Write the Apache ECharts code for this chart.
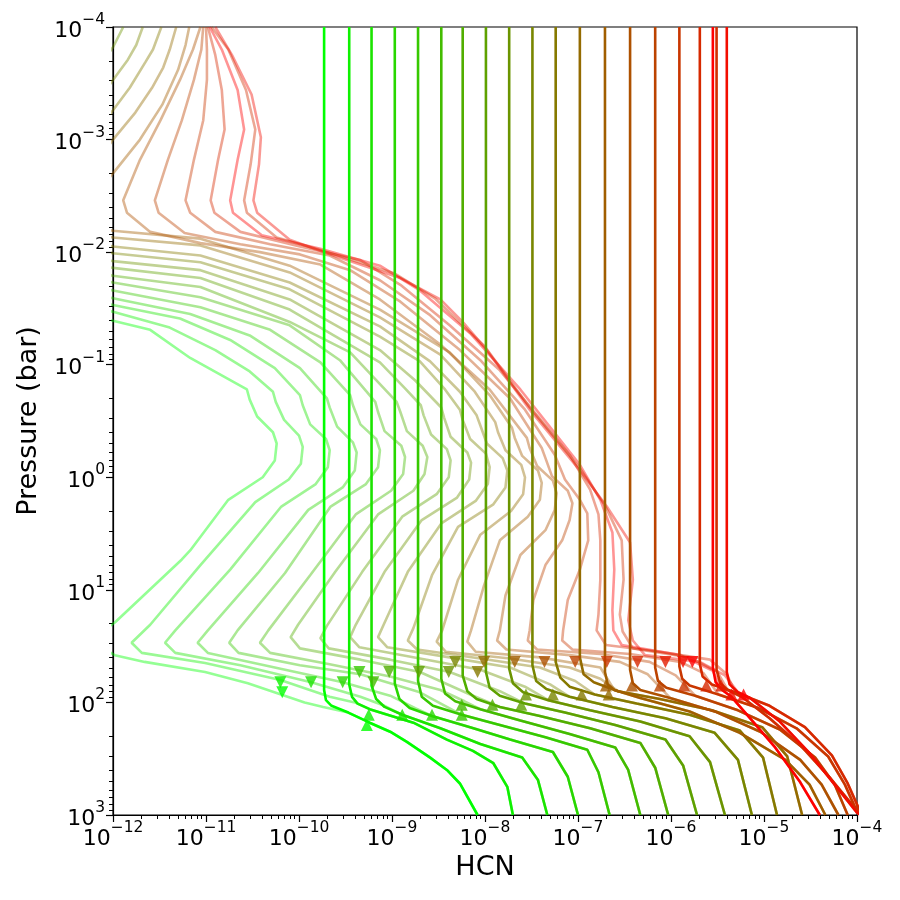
<!DOCTYPE html>
<html><head><meta charset="utf-8">
<script src="https://cdn.jsdelivr.net/npm/echarts@6/dist/echarts.min.js"></script>
<style>html,body{margin:0;padding:0;background:#fff}#c{width:900px;height:900px}</style>
</head><body><div id="c"></div>
<script>
// ---- data: points are [log10(HCN), log10(Pressure/bar)] ----
const X_TICK_EXP = [-12,-11,-10,-9,-8,-7,-6,-5,-4];
const Y_TICK_EXP = [-4,-3,-2,-1,0,1,2,3];

// solid profiles (full colour)
const DARK_00 = [[-9.73,-4],[-9.73,1.89],[-9.71,1.98],[-9.65,2.03],[-9.47,2.09],[-9.24,2.18],[-9.02,2.26],[-8.84,2.35],[-8.59,2.49],[-8.41,2.60],[-8.27,2.72],[-8.08,3.0]];
const DARK_01 = [[-9.46,-4],[-9.46,1.84],[-9.43,1.95],[-9.37,2.01],[-9.24,2.06],[-8.77,2.18],[-8.41,2.33],[-8.13,2.43],[-7.91,2.54],[-7.76,2.75],[-7.70,3.0]];
const DARK_02 = [[-9.22,-4],[-9.22,1.85],[-9.17,1.97],[-9.08,2.04],[-8.89,2.11],[-8.48,2.23],[-8.05,2.37],[-7.60,2.49],[-7.43,2.69],[-7.33,3.0]];
const DARK_03 = [[-8.97,-4],[-8.97,1.83],[-8.92,1.97],[-8.81,2.05],[-8.57,2.12],[-8.16,2.22],[-7.73,2.33],[-7.27,2.44],[-7.11,2.66],[-7.0,3.0]];
const DARK_04 = [[-8.72,-4],[-8.72,1.81],[-8.68,1.95],[-8.56,2.03],[-8.25,2.11],[-7.84,2.20],[-7.35,2.31],[-6.90,2.42],[-6.78,2.62],[-6.66,3.0]];
const DARK_05 = [[-8.47,-4],[-8.47,1.79],[-8.43,1.92],[-8.32,1.99],[-8.05,2.06],[-7.62,2.16],[-7.09,2.28],[-6.60,2.40],[-6.46,2.60],[-6.33,3.0]];
const DARK_06 = [[-8.24,-4],[-8.24,1.76],[-8.19,1.90],[-8.09,1.97],[-7.84,2.04],[-7.41,2.12],[-6.87,2.23],[-6.33,2.36],[-6.17,2.58],[-6.03,3.0]];
const DARK_07 = [[-7.99,-4],[-7.99,1.73],[-7.95,1.87],[-7.84,1.94],[-7.57,2.01],[-7.14,2.09],[-6.60,2.20],[-6.06,2.33],[-5.87,2.56],[-5.72,3.0]];
const DARK_08 = [[-7.74,-4],[-7.74,1.70],[-7.70,1.83],[-7.59,1.91],[-7.32,1.98],[-6.87,2.07],[-6.33,2.17],[-5.80,2.30],[-5.58,2.53],[-5.42,3.0]];
const DARK_09 = [[-7.49,-4],[-7.49,1.67],[-7.45,1.81],[-7.34,1.88],[-7.09,1.95],[-6.63,2.04],[-6.06,2.14],[-5.53,2.27],[-5.28,2.51],[-5.13,3.0]];
const DARK_10 = [[-7.24,-4],[-7.24,1.64],[-7.19,1.78],[-7.09,1.86],[-6.82,1.93],[-6.37,2.01],[-5.80,2.11],[-5.26,2.25],[-5.01,2.49],[-4.86,3.0]];
const DARK_11 = [[-6.98,-4],[-6.98,1.60],[-6.94,1.75],[-6.83,1.82],[-6.57,1.90],[-6.12,1.97],[-5.56,2.07],[-5.02,2.22],[-4.75,2.48],[-4.59,3.0]];
const DARK_12 = [[-6.71,-4],[-6.71,1.73],[-6.68,1.84],[-6.61,1.89],[-6.33,1.96],[-5.80,2.08],[-5.26,2.27],[-4.77,2.51],[-4.51,2.73],[-4.34,3.0]];
const DARK_13 = [[-6.44,-4],[-6.44,1.71],[-6.41,1.83],[-6.33,1.89],[-6.01,1.96],[-5.53,2.08],[-5.04,2.26],[-4.61,2.51],[-4.38,2.73],[-4.20,3.0]];
const DARK_14 = [[-6.17,-4],[-6.17,1.69],[-6.14,1.81],[-6.05,1.87],[-5.74,1.94],[-5.28,2.07],[-4.83,2.24],[-4.45,2.49],[-4.24,2.73],[-4.10,3.0]];
const DARK_15 = [[-5.91,-4],[-5.91,1.68],[-5.88,1.79],[-5.80,1.85],[-5.49,1.93],[-5.06,2.05],[-4.65,2.23],[-4.31,2.48],[-4.13,2.73],[-4.0,2.97]];
const DARK_16 = [[-5.69,-4],[-5.69,1.66],[-5.66,1.77],[-5.56,1.84],[-5.31,1.91],[-4.94,2.03],[-4.56,2.22],[-4.27,2.47],[-4.10,2.72],[-3.95,3.0]];
const DARK_17 = [[-5.55,-4],[-5.55,1.69],[-5.52,1.82],[-5.45,1.89],[-5.35,1.95],[-5.13,2.16],[-4.88,2.40],[-4.61,2.71],[-4.40,3.0]];
const DARK_18 = [[-5.51,-4],[-5.51,1.71],[-5.47,1.83],[-5.39,1.89],[-5.24,1.95],[-4.94,2.14],[-4.61,2.38],[-4.29,2.67],[-4.0,2.96],[-3.86,3.06]];
const DARK_19 = [[-5.40,-4],[-5.40,1.73],[-5.37,1.84],[-5.28,1.91],[-5.15,1.96],[-4.83,2.17],[-4.51,2.45],[-4.24,2.73],[-4.0,2.98],[-3.9,3.03]];

// faded profiles (upper part; below their last point they follow the matching solid profile)
const LIGHT_00 = [[-12.68,-1.49],[-12.0,-1.39],[-11.60,-1.31],[-11.17,-1.06],[-10.56,-0.78],[-10.53,-0.69],[-10.45,-0.54],[-10.28,-0.40],[-10.24,-0.30],[-10.26,-0.15],[-10.39,0.0],[-10.76,0.20],[-11.17,0.65],[-11.26,0.73],[-11.98,1.29],[-12.25,1.45],[-11.98,1.58],[-11.66,1.64],[-11.01,1.73],[-10.55,1.83],[-9.94,2.0],[-9.74,2.04],[-9.47,2.09]];
const LIGHT_01 = [[-12.68,-1.58],[-12.0,-1.47],[-11.39,-1.33],[-10.90,-1.13],[-10.53,-0.94],[-10.28,-0.76],[-10.25,-0.67],[-10.16,-0.51],[-10.0,-0.37],[-9.96,-0.27],[-9.98,-0.12],[-10.11,0.02],[-10.47,0.22],[-11.06,0.78],[-11.60,1.31],[-11.80,1.47],[-11.69,1.56],[-11.01,1.65],[-10.20,1.80],[-9.67,1.95],[-9.40,2.0],[-9.24,2.06]];
const LIGHT_02 = [[-12.68,-1.64],[-12.0,-1.53],[-11.28,-1.41],[-10.74,-1.22],[-10.26,-0.97],[-9.99,-0.73],[-9.96,-0.64],[-9.88,-0.47],[-9.71,-0.34],[-9.67,-0.24],[-9.69,-0.09],[-9.82,0.06],[-10.19,0.26],[-10.74,0.82],[-11.33,1.36],[-11.44,1.47],[-11.33,1.56],[-10.63,1.67],[-9.87,1.82],[-9.34,1.95],[-9.08,2.03],[-8.89,2.11]];
const LIGHT_03 = [[-12.68,-1.70],[-12.0,-1.59],[-11.17,-1.45],[-10.53,-1.26],[-9.99,-0.97],[-9.70,-0.70],[-9.67,-0.62],[-9.59,-0.45],[-9.42,-0.31],[-9.38,-0.22],[-9.40,-0.06],[-9.53,0.09],[-9.90,0.29],[-10.44,0.85],[-10.98,1.36],[-11.09,1.47],[-10.98,1.56],[-10.31,1.68],[-9.53,1.82],[-9.02,1.94],[-8.75,2.05],[-8.57,2.12]];
const LIGHT_04 = [[-12.68,-1.76],[-12.0,-1.66],[-11.06,-1.51],[-10.31,-1.31],[-9.77,-1.02],[-9.45,-0.73],[-9.42,-0.64],[-9.34,-0.47],[-9.17,-0.34],[-9.13,-0.24],[-9.15,-0.09],[-9.28,0.06],[-9.66,0.26],[-10.15,0.85],[-10.66,1.36],[-10.75,1.47],[-10.65,1.56],[-9.99,1.67],[-9.34,1.75],[-8.70,1.91],[-8.43,2.03],[-8.25,2.11]];
const LIGHT_05 = [[-12.68,-1.83],[-12.0,-1.73],[-11.06,-1.60],[-10.10,-1.35],[-9.56,-1.04],[-9.18,-0.67],[-9.15,-0.58],[-9.08,-0.41],[-8.90,-0.28],[-8.86,-0.18],[-8.88,-0.03],[-9.01,0.12],[-9.39,0.33],[-9.88,0.87],[-10.33,1.36],[-10.42,1.47],[-10.31,1.56],[-9.67,1.66],[-9.02,1.77],[-8.48,1.89],[-8.22,1.99],[-8.05,2.06]];
const LIGHT_06 = [[-12.68,-1.89],[-12.0,-1.79],[-11.06,-1.69],[-10.10,-1.38],[-9.45,-1.11],[-8.95,-0.67],[-8.91,-0.58],[-8.84,-0.41],[-8.67,-0.28],[-8.62,-0.18],[-8.65,-0.03],[-8.77,0.12],[-9.15,0.33],[-9.61,0.84],[-10.01,1.31],[-10.09,1.42],[-9.99,1.52],[-9.34,1.62],[-8.70,1.73],[-8.16,1.93],[-7.84,2.04]];
const LIGHT_07 = [[-12.68,-1.97],[-12.0,-1.86],[-11.06,-1.77],[-10.10,-1.49],[-9.13,-1.02],[-8.86,-0.79],[-8.69,-0.64],[-8.66,-0.55],[-8.58,-0.38],[-8.41,-0.25],[-8.37,-0.15],[-8.39,0.0],[-8.52,0.15],[-8.89,0.35],[-9.32,0.84],[-9.70,1.32],[-9.77,1.43],[-9.68,1.52],[-9.02,1.62],[-8.38,1.73],[-7.84,1.90],[-7.57,2.01]];
const LIGHT_08 = [[-11.89,-4.0],[-12.0,-3.82],[-12.14,-3.66],[-12.68,-2.03],[-12.0,-1.92],[-11.06,-1.84],[-10.10,-1.58],[-9.13,-1.13],[-8.75,-0.86],[-8.47,-0.62],[-8.44,-0.53],[-8.37,-0.36],[-8.19,-0.22],[-8.15,-0.13],[-8.17,0.02],[-8.30,0.18],[-8.68,0.38],[-9.08,0.84],[-9.39,1.31],[-9.45,1.42],[-9.35,1.51],[-8.70,1.61],[-8.05,1.71],[-7.57,1.86],[-7.32,1.98]];
const LIGHT_09 = [[-11.68,-4.0],[-11.75,-3.84],[-11.84,-3.71],[-12.0,-3.53],[-12.19,-3.31],[-12.68,-2.10],[-12.0,-1.99],[-11.06,-1.91],[-10.10,-1.67],[-9.13,-1.25],[-8.70,-1.03],[-8.43,-0.78],[-8.27,-0.60],[-8.24,-0.51],[-8.16,-0.34],[-7.99,-0.21],[-7.95,-0.09],[-7.97,0.06],[-8.10,0.21],[-8.47,0.41],[-8.83,0.84],[-9.09,1.31],[-9.15,1.42],[-9.05,1.51],[-8.38,1.60],[-7.73,1.69],[-7.30,1.84],[-7.09,1.95]];
const LIGHT_10 = [[-11.48,-4.0],[-11.57,-3.80],[-11.65,-3.69],[-11.82,-3.46],[-12.0,-3.26],[-12.19,-3.04],[-12.68,-2.16],[-12.0,-2.05],[-11.06,-1.97],[-10.10,-1.73],[-9.13,-1.34],[-8.59,-1.03],[-8.27,-0.76],[-8.09,-0.55],[-8.05,-0.46],[-7.98,-0.30],[-7.81,-0.17],[-7.76,-0.06],[-7.78,0.09],[-7.91,0.24],[-8.29,0.44],[-8.57,0.87],[-8.77,1.34],[-8.83,1.45],[-8.73,1.53],[-8.05,1.61],[-7.41,1.69],[-7.03,1.81],[-6.82,1.93]];
const LIGHT_11 = [[-11.32,-4.0],[-11.39,-3.80],[-11.46,-3.64],[-11.58,-3.46],[-11.76,-3.24],[-12.0,-3.0],[-12.19,-2.77],[-12.68,-2.23],[-12.0,-2.13],[-11.06,-2.06],[-10.10,-1.82],[-9.13,-1.42],[-8.48,-1.09],[-8.11,-0.76],[-7.89,-0.49],[-7.86,-0.40],[-7.78,-0.24],[-7.61,-0.11],[-7.57,0.0],[-7.59,0.15],[-7.72,0.30],[-8.05,0.51],[-8.29,0.91],[-8.46,1.36],[-8.52,1.46],[-8.42,1.55],[-7.73,1.61],[-7.09,1.69],[-6.76,1.79],[-6.57,1.90]];
const LIGHT_12 = [[-11.18,-4.0],[-11.22,-3.84],[-11.30,-3.62],[-11.47,-3.31],[-11.71,-3.0],[-12.0,-2.70],[-12.19,-2.51],[-12.68,-2.29],[-12.0,-2.19],[-11.06,-2.12],[-10.10,-1.88],[-9.13,-1.49],[-8.38,-1.11],[-7.95,-0.73],[-7.71,-0.44],[-7.68,-0.35],[-7.60,-0.19],[-7.43,-0.06],[-7.39,0.05],[-7.41,0.20],[-7.54,0.35],[-7.84,0.56],[-8.01,0.96],[-8.15,1.36],[-8.19,1.46],[-8.10,1.55],[-7.41,1.60],[-6.76,1.69],[-6.61,1.89]];
const LIGHT_13 = [[-11.06,-4.0],[-11.14,-3.80],[-11.28,-3.53],[-11.49,-3.17],[-11.71,-2.82],[-11.89,-2.46],[-11.85,-2.35],[-11.60,-2.18],[-11.06,-2.08],[-10.42,-2.00],[-9.77,-1.89],[-9.13,-1.58],[-8.48,-1.18],[-7.95,-0.78],[-7.55,-0.35],[-7.52,-0.26],[-7.44,-0.10],[-7.27,0.03],[-7.23,0.14],[-7.25,0.29],[-7.35,0.47],[-7.62,0.69],[-7.78,1.05],[-7.84,1.36],[-7.87,1.45],[-7.77,1.53],[-7.09,1.58],[-6.55,1.64],[-6.25,1.75],[-6.01,1.96]];
const LIGHT_14 = [[-11.03,-4.0],[-11.05,-3.80],[-11.13,-3.53],[-11.26,-3.17],[-11.41,-2.82],[-11.55,-2.46],[-11.51,-2.35],[-11.23,-2.17],[-10.63,-2.07],[-9.99,-1.98],[-9.45,-1.84],[-8.91,-1.56],[-8.27,-1.13],[-7.73,-0.70],[-7.39,-0.26],[-7.35,-0.17],[-7.28,-0.01],[-7.11,0.12],[-7.06,0.23],[-7.09,0.38],[-7.17,0.56],[-7.35,0.78],[-7.48,1.09],[-7.52,1.36],[-7.54,1.45],[-7.44,1.53],[-6.76,1.57],[-6.23,1.64],[-5.95,1.76],[-5.74,1.94]];
const LIGHT_15 = [[-11.0,-4.0],[-10.99,-3.80],[-10.99,-3.53],[-11.03,-3.17],[-11.13,-2.82],[-11.22,-2.46],[-11.17,-2.35],[-10.90,-2.18],[-10.31,-2.07],[-9.67,-1.97],[-9.13,-1.75],[-8.59,-1.44],[-8.05,-1.04],[-7.57,-0.60],[-7.25,-0.20],[-7.14,0.02],[-6.98,0.20],[-6.90,0.32],[-6.89,0.56],[-6.98,0.82],[-7.11,1.09],[-7.16,1.36],[-7.17,1.45],[-7.06,1.53],[-6.44,1.57],[-5.90,1.64],[-5.65,1.74],[-5.49,1.93]];
const LIGHT_16 = [[-10.98,-4.0],[-10.90,-3.75],[-10.83,-3.44],[-10.80,-3.09],[-10.87,-2.82],[-10.95,-2.46],[-10.91,-2.35],[-10.63,-2.18],[-9.99,-2.05],[-9.34,-1.93],[-8.91,-1.71],[-8.38,-1.35],[-7.84,-0.95],[-7.35,-0.46],[-7.09,-0.20],[-6.87,0.11],[-6.78,0.33],[-6.76,0.56],[-6.76,0.91],[-6.78,1.22],[-6.80,1.36],[-6.70,1.49],[-6.12,1.55],[-5.58,1.62],[-5.40,1.75],[-5.31,1.91]];
const LIGHT_17 = [[-10.96,-4.0],[-10.83,-3.80],[-10.66,-3.44],[-10.59,-3.09],[-10.66,-2.82],[-10.74,-2.46],[-10.71,-2.35],[-10.40,-2.15],[-9.77,-2.03],[-9.13,-1.88],[-8.70,-1.66],[-8.16,-1.28],[-7.62,-0.78],[-7.19,-0.33],[-6.98,-0.11],[-6.76,0.20],[-6.63,0.49],[-6.61,0.82],[-6.63,1.18],[-6.62,1.36],[-6.53,1.49],[-5.90,1.58],[-5.55,1.72],[-5.45,1.89]];
const LIGHT_18 = [[-10.94,-4.0],[-10.76,-3.80],[-10.57,-3.44],[-10.47,-3.09],[-10.52,-2.78],[-10.59,-2.46],[-10.56,-2.35],[-10.24,-2.13],[-9.77,-2.02],[-8.97,-1.81],[-8.54,-1.59],[-8.0,-1.16],[-7.52,-0.62],[-6.98,-0.08],[-6.71,0.25],[-6.53,0.56],[-6.51,0.91],[-6.55,1.22],[-6.52,1.37],[-6.41,1.52],[-5.80,1.60],[-5.50,1.73],[-5.39,1.89]];
const LIGHT_19 = [[-10.90,-4.0],[-10.72,-3.75],[-10.51,-3.40],[-10.41,-3.02],[-10.43,-2.78],[-10.49,-2.46],[-10.45,-2.35],[-10.10,-2.11],[-9.70,-1.99],[-8.91,-1.77],[-8.48,-1.58],[-8.24,-1.38],[-7.98,-1.13],[-7.52,-0.60],[-6.98,-0.06],[-6.69,0.26],[-6.44,0.58],[-6.41,0.91],[-6.46,1.27],[-6.41,1.45],[-6.28,1.58],[-5.69,1.64],[-5.42,1.76],[-5.28,1.91]];

// markers
const DOWN_TRI = [[-10.18,1.91],[-10.20,1.82],[-9.87,1.82],[-9.53,1.82],[-9.35,1.73],[-9.20,1.82],[-9.03,1.73],[-8.71,1.73],[-8.39,1.73],[-8.32,1.64],[-8.08,1.73],[-8.01,1.64],[-7.68,1.64],[-7.36,1.64],[-7.03,1.64],[-6.69,1.64],[-6.36,1.64],[-6.06,1.64],[-5.87,1.64],[-5.77,1.64]];
const UP_TRI = [[-9.27,2.20],[-9.25,2.11],[-8.89,2.11],[-8.57,2.11],[-8.25,2.11],[-8.25,2.02],[-7.92,2.02],[-7.61,2.02],[-7.56,1.93],[-7.27,1.93],[-6.96,1.93],[-6.67,1.93],[-6.70,1.85],[-6.42,1.85],[-6.12,1.85],[-5.86,1.85],[-5.62,1.85],[-5.46,1.85],[-5.35,1.93],[-5.22,1.93]];

// colour position (0 = green, 1 = red) of each profile
const PROFILE_HUE = [0,0.053,0.105,0.158,0.21,0.263,0.316,0.368,0.42,0.474,0.526,0.579,0.632,0.684,0.737,0.79,0.84,1.0,0.82,0.95];

const DARK = [DARK_00,DARK_01,DARK_02,DARK_03,DARK_04,DARK_05,DARK_06,DARK_07,DARK_08,DARK_09,DARK_10,DARK_11,DARK_12,DARK_13,DARK_14,DARK_15,DARK_16,DARK_17,DARK_18,DARK_19];
const LIGHT = [LIGHT_00,LIGHT_01,LIGHT_02,LIGHT_03,LIGHT_04,LIGHT_05,LIGHT_06,LIGHT_07,LIGHT_08,LIGHT_09,LIGHT_10,LIGHT_11,LIGHT_12,LIGHT_13,LIGHT_14,LIGHT_15,LIGHT_16,LIGHT_17,LIGHT_18,LIGHT_19];

// ---- helpers ----
const toVal = p => [Math.pow(10, p[0]), Math.pow(10, p[1])];
function rgb(t){ const r = Math.round(255*t), g = Math.round(255*(1-t)); return `rgb(${r},${g},0)`; }
function pow10Label(v){ const e = Math.round(Math.log10(v)); return '{b|10}{s|' + (e < 0 ? '\u2212' : '') + Math.abs(e) + '}'; }
function minorValues(exps){ const out=[]; for (let i=0;i<exps.length-1;i++){ for (let m=2;m<=9;m++) out.push(m*Math.pow(10,exps[i])); } return out; }
const X_MAJOR = X_TICK_EXP.map(e => Math.pow(10,e));
const Y_MAJOR = Y_TICK_EXP.map(e => Math.pow(10,e));
const FONT = 'DejaVu Sans';
const RICH = {
  b:{fontFamily:FONT, fontSize:22, color:'#000', lineHeight:30, verticalAlign:'bottom'},
  s:{fontFamily:FONT, fontSize:15.5, color:'#000', lineHeight:17, verticalAlign:'top'}
};

const series = [];
LIGHT.forEach((own, k) => {
  const last = own[own.length-1][1];
  const full = own.concat(DARK[k].filter(p => p[1] > last + 1e-9));
  series.push({type:'line', data: full.map(toVal), showSymbol:false, silent:true, clip:true, z:2,
    lineStyle:{width:2.6, color: rgb(PROFILE_HUE[k]), opacity:0.42}});
});
DARK.forEach((d, k) => {
  series.push({type:'line', data: d.map(toVal), showSymbol:false, silent:true, clip:true, z:3,
    lineStyle:{width:2.6, color: rgb(PROFILE_HUE[k])}});
});
series.push({type:'scatter', symbol:'triangle', symbolRotate:180, symbolSize:12, z:5, silent:true,
  data: DOWN_TRI.map((p,i) => ({value: toVal(p), itemStyle:{color: rgb(i/(DOWN_TRI.length-1))}}))});
series.push({type:'scatter', symbol:'triangle', symbolSize:12, z:5, silent:true,
  data: UP_TRI.map((p,i) => ({value: toVal(p), itemStyle:{color: rgb(i/(UP_TRI.length-1))}}))});

const chart = echarts.init(document.getElementById('c'), null, {renderer:'canvas'});
chart.setOption({
  animation:false,
  backgroundColor:'#fff',
  grid:{left:113, top:27, width:744, height:788, show:true, borderColor:'#000', borderWidth:1.2, backgroundColor:'transparent'},
  xAxis:[{
    type:'log', logBase:10, min:1e-12, max:1e-4, splitNumber:8,
    name:'HCN', nameLocation:'middle', nameGap:38,
    nameTextStyle:{fontFamily:FONT, fontSize:27, color:'#000'},
    axisLine:{show:true, lineStyle:{color:'#000', width:1.2}},
    axisTick:{show:true, length:7, lineStyle:{color:'#000', width:1.2}, customValues: X_MAJOR},
    axisLabel:{show:true, margin:5, color:'#000', formatter: pow10Label, rich: RICH, customValues: X_MAJOR, showMinLabel:true, showMaxLabel:true},
    splitLine:{show:false}, minorTick:{show:false}
  },{
    type:'log', logBase:10, min:1e-12, max:1e-4, gridIndex:0, position:'bottom',
    axisLine:{show:false}, axisLabel:{show:false}, splitLine:{show:false},
    axisTick:{show:true, length:4, lineStyle:{color:'#000', width:1}, customValues: minorValues(X_TICK_EXP)}
  }],
  yAxis:[{
    type:'log', logBase:10, min:1e-4, max:1e3, splitNumber:7, inverse:true,
    name:'Pressure (bar)', nameLocation:'middle', nameGap:71,
    nameTextStyle:{fontFamily:FONT, fontSize:27, color:'#000'},
    axisLine:{show:true, lineStyle:{color:'#000', width:1.2}},
    axisTick:{show:true, length:7, lineStyle:{color:'#000', width:1.2}, customValues: Y_MAJOR},
    axisLabel:{show:true, margin:8, color:'#000', formatter: pow10Label, rich: RICH, customValues: Y_MAJOR, showMinLabel:true, showMaxLabel:true},
    splitLine:{show:false}, minorTick:{show:false}
  },{
    type:'log', logBase:10, min:1e-4, max:1e3, inverse:true, gridIndex:0, position:'left',
    axisLine:{show:false}, axisLabel:{show:false}, splitLine:{show:false},
    axisTick:{show:true, length:4, lineStyle:{color:'#000', width:1}, customValues: minorValues(Y_TICK_EXP)}
  }],
  series: series
});
</script></body></html>
